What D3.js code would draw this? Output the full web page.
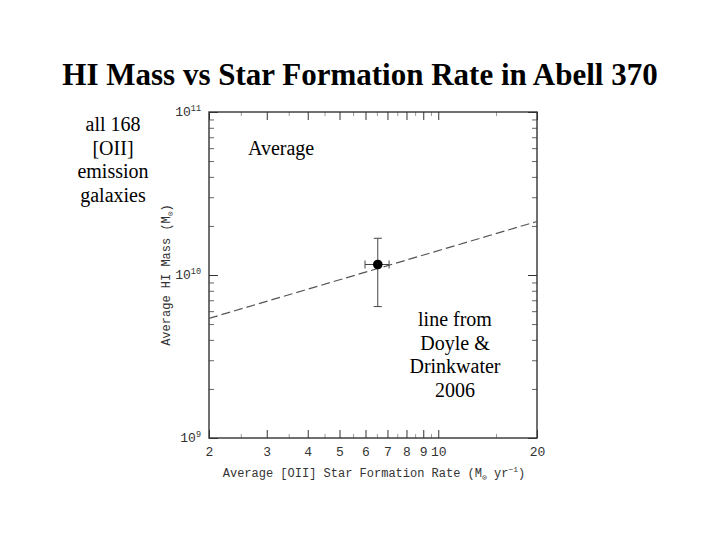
<!DOCTYPE html>
<html>
<head>
<meta charset="utf-8">
<script src="https://cdn.jsdelivr.net/npm/d3@7"></script>
<style>
  body { margin: 0; background: #fff; }
  svg { display: block; }
  .tick text { font-family: "Liberation Mono", monospace; font-size: 13px; fill: #333; }
  .domain { display: none; }
</style>
</head>
<body>
<svg id="chart" width="720" height="540"></svg>
<script>
// ── Data ──────────────────────────────────────────────────────────────────────

const xMajor = [2, 3, 4, 5, 6, 7, 8, 9, 10, 20];
const xMinor = [2.5, 3.5, 4.5, 5.5, 6.5, 7.5, 8.5, 9.5, 15];
const yMajor = [1e9, 1e10, 1e11];
const yMinor = [2e9, 3e9, 4e9, 5e9, 6e9, 7e9, 8e9, 9e9,
                2e10, 3e10, 4e10, 5e10, 6e10, 7e10, 8e10, 9e10];
const yLabelExp = ['9', '10', '11'];

// average point with error bars
const avgSFR   = [6.54];
const avgSFRLo = [5.98];
const avgSFRHi = [7.08];
const avgMass   = [1.16e10];
const avgMassLo = [6.4e9];
const avgMassHi = [1.68e10];

// Doyle & Drinkwater 2006 relation
const relSFR  = [2, 20];
const relMass = [5.42e9, 2.13e10];

const sideNote  = ['all 168', '[OII]', 'emission', 'galaxies'];
const lineNote  = ['line from', 'Doyle &', 'Drinkwater', '2006'];

// ── Setup ─────────────────────────────────────────────────────────────────────

const svg = d3.select('#chart');
const L = 209, R = 537, T = 112, B = 438;

const x = d3.scaleLog().domain([2, 20]).range([L, R]);
const y = d3.scaleLog().domain([1e9, 1e11]).range([B, T]);

svg.append('rect').attr('width', 720).attr('height', 540).attr('fill', '#fff');

// title
svg.append('text')
  .attr('x', 360).attr('y', 85)
  .attr('text-anchor', 'middle')
  .style('font-family', '"Liberation Serif", "Times New Roman", serif')
  .style('font-weight', 'bold')
  .style('font-size', '31px')
  .text('HI Mass vs Star Formation Rate in Abell 370');

// ── Axes (ticks drawn inward) ─────────────────────────────────────────────────

svg.append('g')
  .attr('transform', `translate(0,${B})`)
  .call(d3.axisBottom(x).tickValues(xMajor).tickFormat(d3.format('d'))
    .tickSizeInner(-8).tickSizeOuter(0).tickPadding(9))
  .call(a => a.selectAll('line').attr('stroke', '#333'));

svg.append('g')
  .attr('transform', `translate(0,${B})`)
  .call(d3.axisBottom(x).tickValues(xMinor).tickFormat('')
    .tickSizeInner(-4).tickSizeOuter(0))
  .call(a => a.selectAll('line').attr('stroke', '#999'));

svg.append('g')
  .attr('transform', `translate(0,${T})`)
  .call(d3.axisTop(x).tickValues(xMajor).tickFormat('')
    .tickSizeInner(-8).tickSizeOuter(0))
  .call(a => a.selectAll('line').attr('stroke', '#333'));

svg.append('g')
  .attr('transform', `translate(0,${T})`)
  .call(d3.axisTop(x).tickValues(xMinor).tickFormat('')
    .tickSizeInner(-4).tickSizeOuter(0))
  .call(a => a.selectAll('line').attr('stroke', '#999'));

[[L, d3.axisLeft], [R, d3.axisRight]].forEach(([pos, axisFn]) => {
  svg.append('g')
    .attr('transform', `translate(${pos},0)`)
    .call(axisFn(y).tickValues(yMajor).tickFormat('')
      .tickSizeInner(-9).tickSizeOuter(0))
    .call(a => a.selectAll('line').attr('stroke', '#333'));
  svg.append('g')
    .attr('transform', `translate(${pos},0)`)
    .call(axisFn(y).tickValues(yMinor).tickFormat('')
      .tickSizeInner(-5).tickSizeOuter(0))
    .call(a => a.selectAll('line').attr('stroke', '#666'));
});

// y tick labels as 10^n
const yLab = svg.append('g')
  .style('font-family', '"Liberation Mono", monospace')
  .style('fill', '#333');
yMajor.forEach((v, i) => {
  const t = yLab.append('text')
    .attr('x', 201).attr('y', y(v) + 4)
    .attr('text-anchor', 'end')
    .style('font-size', '13px');
  t.append('tspan').text('10');
  t.append('tspan').attr('dy', -5).style('font-size', '8.5px').text(yLabelExp[i]);
});

// frame
svg.append('rect')
  .attr('x', L).attr('y', T)
  .attr('width', R - L).attr('height', B - T)
  .attr('fill', 'none').attr('stroke', '#333').attr('stroke-width', 1.4);

// axis titles
const xt = svg.append('text')
  .attr('x', (L + R) / 2 + 1).attr('y', 477)
  .attr('text-anchor', 'middle')
  .style('font-family', '"Liberation Mono", monospace')
  .style('font-size', '12px').style('fill', '#333');
xt.append('tspan').text('Average [OII] Star Formation Rate (M');
xt.append('tspan').attr('dy', 3).style('font-size', '8px').text('⊙');
xt.append('tspan').attr('dy', -3).text(' yr');
xt.append('tspan').attr('dy', -5).style('font-size', '8px').text('−1');
xt.append('tspan').attr('dy', 5).text(')');

const yt = svg.append('text')
  .attr('transform', `translate(170,${(T + B) / 2}) rotate(-90)`)
  .attr('text-anchor', 'middle')
  .style('font-family', '"Liberation Mono", monospace')
  .style('font-size', '12px').style('fill', '#333');
yt.append('tspan').text('Average HI Mass (M');
yt.append('tspan').attr('dy', 3).style('font-size', '8px').text('⊙');
yt.append('tspan').attr('dy', -3).text(')');

// ── Marks ─────────────────────────────────────────────────────────────────────

svg.append('path')
  .datum(d3.zip(relSFR, relMass))
  .attr('d', d3.line().x(d => x(d[0])).y(d => y(d[1])))
  .attr('fill', 'none').attr('stroke', '#555')
  .attr('stroke-width', 1.2).attr('stroke-dasharray', '9,4');

const pts = avgSFR.map((s, i) => ({
  s, sLo: avgSFRLo[i], sHi: avgSFRHi[i],
  m: avgMass[i], mLo: avgMassLo[i], mHi: avgMassHi[i]
}));

const err = svg.append('g').attr('stroke', '#444').attr('stroke-width', 1);
pts.forEach(p => {
  err.append('line').attr('x1', x(p.s)).attr('x2', x(p.s)).attr('y1', y(p.mLo)).attr('y2', y(p.mHi));
  err.append('line').attr('x1', x(p.s) - 4).attr('x2', x(p.s) + 4).attr('y1', y(p.mLo)).attr('y2', y(p.mLo));
  err.append('line').attr('x1', x(p.s) - 4).attr('x2', x(p.s) + 4).attr('y1', y(p.mHi)).attr('y2', y(p.mHi));
  err.append('line').attr('x1', x(p.sLo)).attr('x2', x(p.sHi)).attr('y1', y(p.m)).attr('y2', y(p.m));
  err.append('line').attr('x1', x(p.sLo)).attr('x2', x(p.sLo)).attr('y1', y(p.m) - 4).attr('y2', y(p.m) + 4);
  err.append('line').attr('x1', x(p.sHi)).attr('x2', x(p.sHi)).attr('y1', y(p.m) - 4).attr('y2', y(p.m) + 4);
});

svg.selectAll('circle.avg')
  .data(pts).join('circle')
  .attr('class', 'avg')
  .attr('cx', d => x(d.s)).attr('cy', d => y(d.m))
  .attr('r', 4.8).attr('fill', '#000');

// ── Annotations ───────────────────────────────────────────────────────────────

const serif = '"Liberation Serif", "Times New Roman", serif';

svg.append('g').selectAll('text')
  .data(sideNote).join('text')
  .attr('x', 113).attr('y', (d, i) => 131 + i * 23.5)
  .attr('text-anchor', 'middle')
  .style('font-family', serif).style('font-size', '20px')
  .text(d => d);

svg.append('text')
  .attr('x', 248).attr('y', 155)
  .style('font-family', serif).style('font-size', '20px')
  .text('Average');

svg.append('g').selectAll('text')
  .data(lineNote).join('text')
  .attr('x', 455).attr('y', (d, i) => 326 + i * 23.7)
  .attr('text-anchor', 'middle')
  .style('font-family', serif).style('font-size', '20px')
  .text(d => d);
</script>
</body>
</html>
